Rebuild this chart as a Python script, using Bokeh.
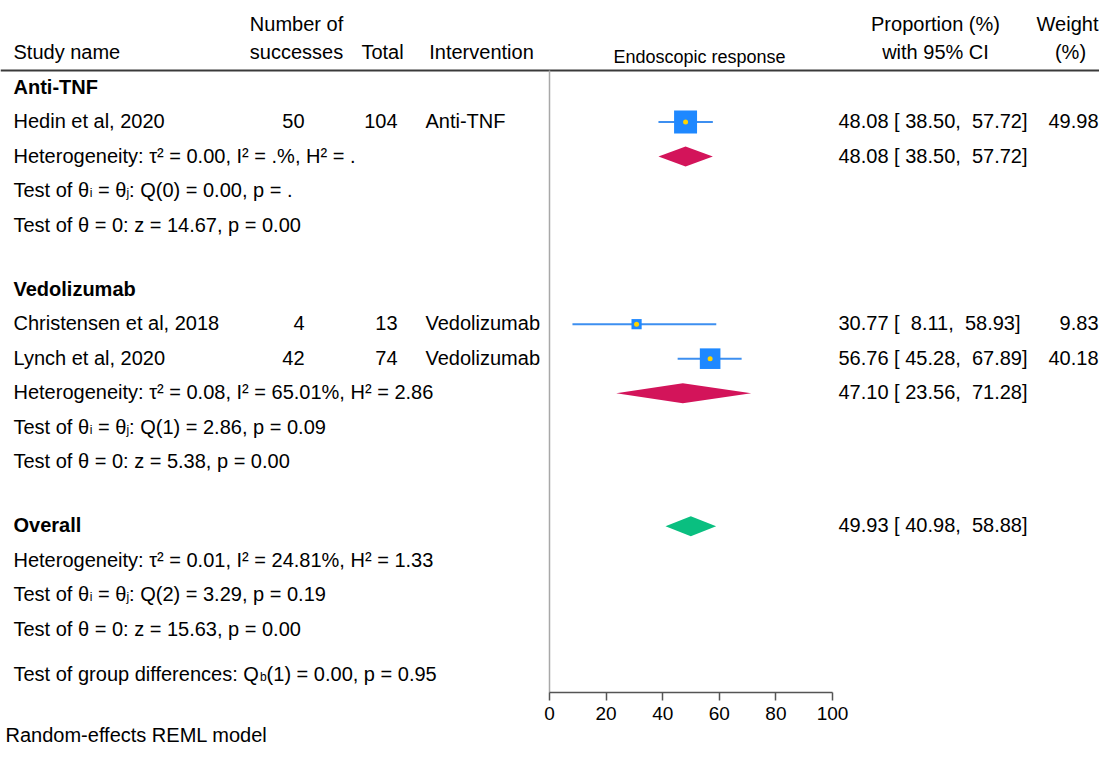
import math
from bokeh.plotting import figure
from bokeh.models import Range1d, LinearAxis, FixedTicker, ColumnDataSource
from bokeh.core.properties import value
from bokeh.embed import file_html
from bokeh.resources import INLINE

# ---------------- data ----------------
group_names = ["Anti-TNF", "Vedolizumab"]
study_names = ["Hedin et al, 2020", "Christensen et al, 2018", "Lynch et al, 2020"]
study_group = [0, 1, 1]
successes = [50, 4, 42]
totals = [104, 13, 74]
interventions = ["Anti-TNF", "Vedolizumab", "Vedolizumab"]
est = [48.08, 30.77, 56.76]
ci_lo = [38.50, 8.11, 45.28]
ci_hi = [57.72, 58.93, 67.89]
weights = [49.98, 9.83, 40.18]

group_est = [48.08, 47.10]
group_lo = [38.50, 23.56]
group_hi = [57.72, 71.28]
group_het = [("0.00", ".%", "."), ("0.08", "65.01%", "2.86")]
group_q = [("0", "0.00", "."), ("1", "2.86", "0.09")]
group_z = [("14.67", "0.00"), ("5.38", "0.00")]

overall_est = [49.93]
overall_lo = [40.98]
overall_hi = [58.88]
overall_het = ("0.01", "24.81%", "1.33")
overall_q = ("2", "3.29", "0.19")
overall_z = ("15.63", "0.00")
group_diff = ("1", "0.00", "0.95")

x_ticks = [0, 20, 40, 60, 80, 100]
plot_title = "Endoscopic response"

# ---------------- layout ----------------
W, H = 1099, 745
AX0, AX100 = 549, 832        # pixel position of 0 and 100
SC = (AX100 - AX0) / 100.0
ROW = 34.5
TOP = 87
FS = 20
BASE = -1                    # baseline offset from row centre
FONT = value("Liberation Sans")
NB = "\u00a0"

p = figure(width=W, height=H,
           x_range=Range1d(-AX0 / SC, (W - AX0) / SC),
           y_range=Range1d(H, 0),
           output_backend="svg", toolbar_location=None,
           x_axis_type=None, y_axis_type=None,
           min_border=0, outline_line_color=None)
p.extra_x_ranges = {"px": Range1d(0, W)}

CW = {}
for chars, w in [(" ,.:;[]ftI!/" + NB, 278), ("il'j", 222), ("()-r", 333), ("%", 889),
                 ("=+<>", 584), ("0123456789abdeghnopqu?$#θ", 556), ("cksvxyz", 500),
                 ("mM", 833), ("ACDHNRUw", 722), ("BEKPSVXY", 667),
                 ("FTZ", 611), ("GOQ", 778), ("L", 556), ("J", 500), ("W", 944),
                 ("τ", 440), ("²", 333)]:
    for c in chars:
        CW[c] = w


def tw(s, size):
    w = sum(CW.get(c, 556) for c in s) / 1000.0 * size
    w -= s.count("Te") * 0.074 * size
    return w


def cy(k):
    return TOP + ROW * k


texts = dict(x=[], y=[], t=[], align=[])
btexts = dict(x=[], y=[], t=[])
subs = dict(x=[], y=[], t=[])


def put(x, yc, t, align="left"):
    texts["x"].append(x)
    texts["y"].append(yc + BASE)
    texts["t"].append(t)
    texts["align"].append(align)


def rich(x, yc, segs):
    for s, kind in segs:
        s = s.replace(" ", NB)
        if kind == "n":
            put(x, yc, s)
            x += tw(s, FS)
        else:
            subs["x"].append(x)
            subs["y"].append(yc + BASE + 3)
            subs["t"].append(s)
            x += tw(s, 12)


def het(yc, h):
    put(13, yc, "Heterogeneity: τ² = %s, I² = %s, H² = %s" % h)


def qtest(yc, q):
    rich(13, yc, [("Test of θ", "n"), ("i", "s"), (" = θ", "n"), ("j", "s"),
                  (": Q(%s) = %s, p = %s" % q, "n")])


def ztest(yc, z):
    put(13, yc, "Test of θ = 0: z = %s, p = %s" % z)


def ci_str(e, lo, hi):
    return ("%.2f [%6.2f, %6.2f]" % (e, lo, hi)).replace(" ", NB)


# header
put(296, 24, "Number of", "center")
put(296, 52, "successes", "center")
put(13, 52, "Study name")
put(382, 52, "Total", "center")
put(481, 52, "Intervention", "center")
put(935, 24, "Proportion (%)", "center")
put(935, 52, "with 95% CI", "center")
put(1067, 24, "Weight", "center")
put(1070, 52, "(%)", "center")

# rows
k = 0.0
study_y = []
diamond_y = []
for g, gname in enumerate(group_names):
    btexts["x"].append(13); btexts["y"].append(cy(k) + BASE); btexts["t"].append(gname)
    k += 1
    for i in range(len(study_names)):
        if study_group[i] != g:
            continue
        yc = cy(k)
        study_y.append(yc)
        put(13, yc, study_names[i])
        put(304, yc, str(successes[i]), "right")
        put(397, yc, str(totals[i]), "right")
        put(425, yc, interventions[i])
        put(838, yc, ci_str(est[i], ci_lo[i], ci_hi[i]))
        put(1098, yc, "%.2f" % weights[i], "right")
        k += 1
    yc = cy(k)
    diamond_y.append(yc)
    het(yc, group_het[g])
    put(838, yc, ci_str(group_est[g], group_lo[g], group_hi[g]))
    k += 1
    qtest(cy(k), group_q[g]); k += 1
    ztest(cy(k), group_z[g]); k += 1
    k += 0.86

btexts["x"].append(13); btexts["y"].append(cy(k) + BASE); btexts["t"].append("Overall")
overall_y = [cy(k)]
put(838, cy(k), ci_str(overall_est[0], overall_lo[0], overall_hi[0]))
k += 1
het(cy(k), overall_het); k += 1
qtest(cy(k), overall_q); k += 1
ztest(cy(k), overall_z); k += 1
k += 0.32
rich(13, cy(k), [("Test of group differences: Q", "n"), ("b", "s"),
                 ("(%s) = %s, p = %s" % group_diff, "n")])
put(5, 735, "Random-effects REML model")

# header rule and reference line
AXIS_Y = 692
p.segment(x0=[0], x1=[W], y0=[70], y1=[70], x_range_name="px",
          line_color="#3a3a3a", line_width=2)
p.segment(x0=[0], x1=[0], y0=[70], y1=[AXIS_Y], line_color="#a8a8a8", line_width=1.5)

# whiskers, squares, dots
p.segment(x0=ci_lo, x1=ci_hi, y0=study_y, y1=study_y, line_color="#3d8ff0", line_width=2)
p.scatter(x=est, y=study_y, marker="square", size=[3.25 * math.sqrt(w) for w in weights],
          fill_color="#1e88ff", line_color=None)
p.scatter(x=est, y=study_y, marker="circle", size=5, fill_color="#ffd400", line_color=None)

# diamonds
DH = 10
p.patches(xs=[[l, e, h, e] for l, e, h in zip(group_lo, group_est, group_hi)],
          ys=[[y, y - DH, y, y + DH] for y in diamond_y],
          fill_color="#d3145a", line_color=None)
p.patches(xs=[[l, e, h, e] for l, e, h in zip(overall_lo, overall_est, overall_hi)],
          ys=[[y, y - DH, y, y + DH] for y in overall_y],
          fill_color="#0abf80", line_color=None)

# texts
p.text(x="x", y="y", text="t", text_align="align", source=ColumnDataSource(texts),
       x_range_name="px", text_font=FONT, text_font_size="20px",
       text_baseline="alphabetic", text_color="black")
p.text(x="x", y="y", text="t", source=ColumnDataSource(btexts),
       x_range_name="px", text_font=FONT, text_font_size="20px", text_font_style="bold",
       text_baseline="alphabetic", text_color="black")
p.text(x="x", y="y", text="t", source=ColumnDataSource(subs),
       x_range_name="px", text_font=FONT, text_font_size="12px",
       text_baseline="alphabetic", text_color="black")
p.text(x=[699], y=[57 + BASE], text=[plot_title], x_range_name="px", text_font=FONT,
       text_font_size="18px", text_align="center", text_baseline="alphabetic",
       text_color="black")

# axis
ax = LinearAxis(fixed_location=AXIS_Y, ticker=FixedTicker(ticks=x_ticks),
                bounds=(0, 100))
ax.axis_line_color = "#555555"
ax.axis_line_width = 1.5
ax.major_tick_line_color = "#555555"
ax.major_tick_line_width = 1.5
ax.major_tick_in = 0
ax.major_tick_out = 8
ax.minor_tick_line_color = None
ax.major_label_text_font = "Liberation Sans"
ax.major_label_text_font_size = "19px"
ax.major_label_text_color = "black"
ax.major_label_standoff = 6
p.add_layout(ax, "below")

open("out.html", "w").write(file_html(p, INLINE))
